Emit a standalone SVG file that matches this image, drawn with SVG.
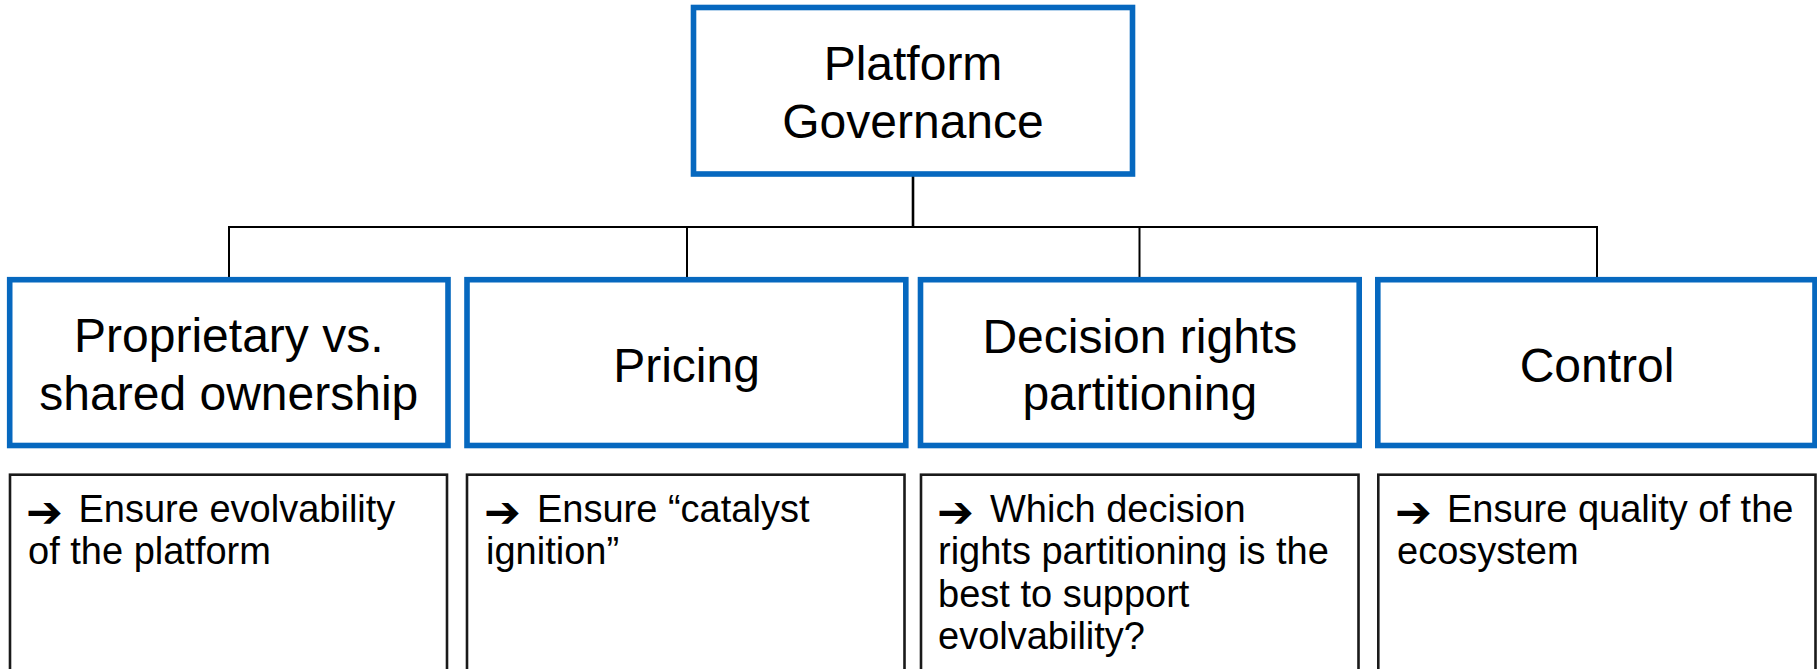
<svg xmlns="http://www.w3.org/2000/svg" width="1817" height="669" viewBox="0 0 1817 669">
<style>
.blue{fill:#fff;stroke:#0668BF;stroke-width:5.6}
.blk{fill:#fff;stroke:#1a1a1a;stroke-width:2.6}
.t48{font-family:"Liberation Sans",Arial,sans-serif;font-size:48px;fill:#000;text-anchor:middle}
.t38{font-family:"Liberation Sans",Arial,sans-serif;font-size:38px;fill:#000}
.arr{font-family:"DejaVu Sans",sans-serif;font-size:44px;font-weight:bold;fill:#000}
.con{stroke:#000;fill:none}
</style>
<rect width="1817" height="669" fill="#fff"/>
<g id="connectors">
<line class="con" x1="913" y1="174" x2="913" y2="227" stroke-width="2.6"/>
<line class="con" x1="228" y1="227" x2="1598" y2="227" stroke-width="2"/>
<line class="con" x1="229" y1="227" x2="229" y2="277" stroke-width="2"/>
<line class="con" x1="687" y1="227" x2="687" y2="277" stroke-width="2"/>
<line class="con" x1="1139.5" y1="227" x2="1139.5" y2="277" stroke-width="2"/>
<line class="con" x1="1597" y1="227" x2="1597" y2="277" stroke-width="2"/>
</g>
<g id="root">
<rect class="blue" x="693.5" y="7.5" width="439" height="166.5"/>
<text class="t48" x="913" y="80">Platform</text>
<text class="t48" x="913" y="137.5">Governance</text>
</g>
<g id="ownership">
<rect class="blue" x="9.7" y="279.7" width="438.3" height="165.8"/>
<text class="t48" x="228.8" y="351.7">Proprietary vs.</text>
<text class="t48" x="228.8" y="410">shared ownership</text>
</g>
<g id="pricing">
<rect class="blue" x="467" y="279.7" width="438.8" height="165.8"/>
<text class="t48" x="686.5" y="381.7">Pricing</text>
</g>
<g id="decision">
<rect class="blue" x="920.5" y="279.7" width="438.7" height="165.8"/>
<text class="t48" x="1139.8" y="352.5">Decision rights</text>
<text class="t48" x="1139.8" y="409.5">partitioning</text>
</g>
<g id="control">
<rect class="blue" x="1377.8" y="279.7" width="437.2" height="165.8"/>
<text class="t48" x="1597" y="381.7">Control</text>
</g>
<g id="note-ownership">
<rect class="blk" x="10" y="474.7" width="437" height="230"/>
<text class="arr" x="26" y="527">➔</text>
<text class="t38"><tspan x="78.5" y="521.5">Ensure evolvability</tspan><tspan x="28" y="564">of the platform</tspan></text>
</g>
<g id="note-pricing">
<rect class="blk" x="467" y="474.7" width="437.5" height="230"/>
<text class="arr" x="484" y="527">➔</text>
<text class="t38"><tspan x="537" y="521.5">Ensure “catalyst</tspan><tspan x="486" y="564">ignition”</tspan></text>
</g>
<g id="note-decision">
<rect class="blk" x="921" y="474.7" width="437.5" height="230"/>
<text class="arr" x="937" y="527">➔</text>
<text class="t38"><tspan x="990" y="521.5">Which decision</tspan><tspan x="938" y="564">rights partitioning is the</tspan><tspan x="938" y="606.5">best to support</tspan><tspan x="938" y="649">evolvability?</tspan></text>
</g>
<g id="note-control">
<rect class="blk" x="1378.3" y="474.7" width="437.2" height="230"/>
<text class="arr" x="1395" y="527">➔</text>
<text class="t38"><tspan x="1447" y="521.5">Ensure quality of the</tspan><tspan x="1397" y="564">ecosystem</tspan></text>
</g>
</svg>
